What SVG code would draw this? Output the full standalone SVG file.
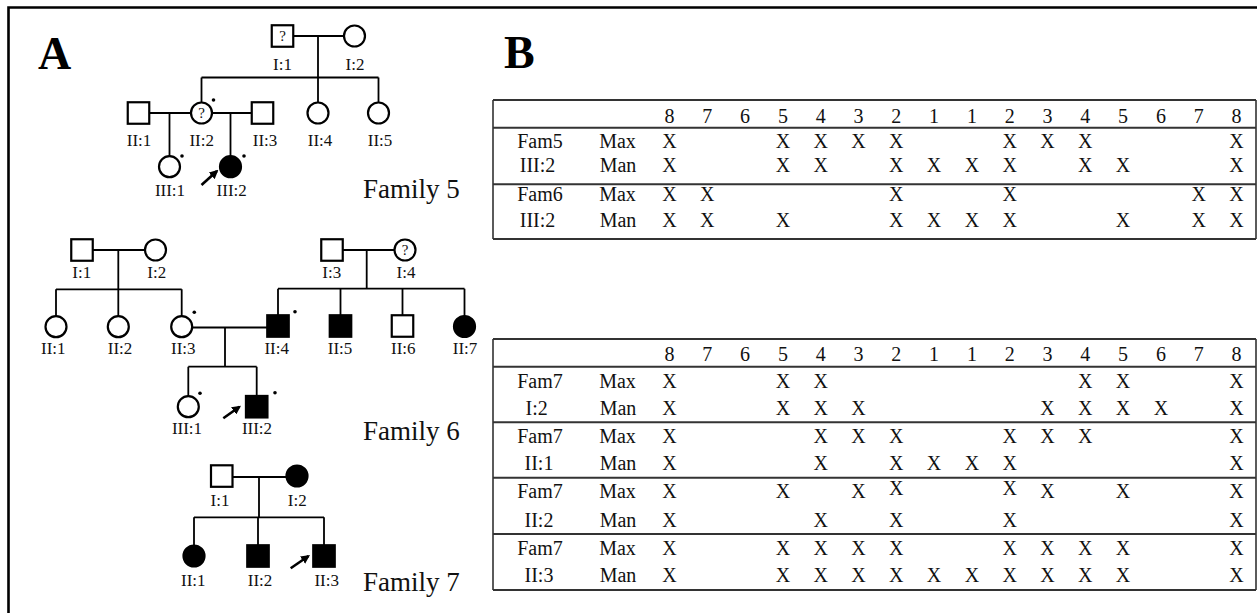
<svg xmlns="http://www.w3.org/2000/svg" width="1257" height="613" viewBox="0 0 1257 613">
  <style>
    .sym { fill: #fff; stroke: #000; stroke-width: 2.2; }
    .aff { fill: #000; stroke: #000; stroke-width: 2.2; }
    .ln { fill: none; stroke: #000; stroke-width: 1.8; }
    .lbl { font-family: "Liberation Serif", "Times New Roman", serif; font-size: 17px; text-anchor: middle; fill: #111; }
    .q { font-family: "Liberation Serif", "Times New Roman", serif; font-size: 15px; text-anchor: middle; fill: #111; }
    .fam { font-family: "Liberation Serif", "Times New Roman", serif; font-size: 27px; fill: #111; }
    .panel { font-family: "Liberation Serif", "Times New Roman", serif; font-size: 46px; font-weight: bold; fill: #000; }
    .tt { font-family: "Liberation Serif", "Times New Roman", serif; font-size: 20px; text-anchor: middle; fill: #111; }
    .rule { stroke: #333; stroke-width: 2; fill: none; }
    .rule2 { stroke: #333; stroke-width: 1.6; fill: none; }
    .dot { fill: #000; }
    .arr { stroke: #000; stroke-width: 2.6; fill: none; marker-end: url(#head); }
  </style>
  <defs>
    <marker id="head" viewBox="0 0 10 10" refX="8" refY="5" markerWidth="9" markerHeight="9" markerUnits="userSpaceOnUse" orient="auto">
      <path d="M0,0 L10,5 L0,10 z" fill="#000"/>
    </marker>
  </defs>

  <rect width="1257" height="613" fill="#fff"/>
  <!-- frame -->
  <path d="M8.5,613 V7.5 H1257" fill="none" stroke="#000" stroke-width="2.6"/>

  <text class="panel" x="38" y="69">A</text>
  <text class="panel" x="504" y="68">B</text>

  <!-- ===== Family 5 ===== -->
  <g id="connectors-f5">
    <path class="ln" d="M293,36 H344 M318,36 V77.5 M201.5,77.5 H378.5 M201.5,77.5 V102.5 M318,77.5 V102.5 M378.5,77.5 V102.5"/>
    <path class="ln" d="M149,113 H191 M169.5,113 V156 M212,113 H252 M230.5,113 V156"/>
    <line class="arr" x1="201.5" y1="185" x2="217" y2="171"/>
  </g>
  <g id="f5-I1"><rect class="sym" x="271.75" y="25.25" width="21.5" height="21.5"/><text class="q" x="282.5" y="41">?</text><text class="lbl" x="282.5" y="70">I:1</text></g>
  <g id="f5-I2"><circle class="sym" cx="354.5" cy="36" r="10.5"/><text class="lbl" x="355" y="70">I:2</text></g>
  <g id="f5-II1"><rect class="sym" x="127.75" y="102.25" width="21.5" height="21.5"/><text class="lbl" x="139" y="146">II:1</text></g>
  <g id="f5-II2"><circle class="sym" cx="201.5" cy="113" r="10.5"/><text class="q" x="201.5" y="118">?</text><circle class="dot" cx="213.5" cy="100" r="1.8"/><text class="lbl" x="201.7" y="146">II:2</text></g>
  <g id="f5-II3"><rect class="sym" x="251.75" y="102.25" width="21.5" height="21.5"/><text class="lbl" x="265" y="146">II:3</text></g>
  <g id="f5-II4"><circle class="sym" cx="318" cy="113" r="10.5"/><text class="lbl" x="320" y="146">II:4</text></g>
  <g id="f5-II5"><circle class="sym" cx="378.5" cy="113" r="10.5"/><text class="lbl" x="380" y="146">II:5</text></g>
  <g id="f5-III1"><circle class="sym" cx="169.5" cy="166.7" r="10.5"/><circle class="dot" cx="182" cy="156" r="1.8"/><text class="lbl" x="170" y="196">III:1</text></g>
  <g id="f5-III2"><circle class="aff" cx="230.5" cy="166.7" r="10.5"/><circle class="dot" cx="244" cy="156" r="1.8"/><text class="lbl" x="231.7" y="196">III:2</text></g>
  <text class="fam" x="363" y="198">Family 5</text>

  <!-- ===== Family 6 ===== -->
  <g id="connectors-f6">
    <path class="ln" d="M93,250 H145 M118.3,250 V289.3 M56,289.3 H181.7 M56,289.3 V316 M118.3,289.3 V316 M181.7,289.3 V316"/>
    <path class="ln" d="M343,250 H394.5 M366.7,250 V288.7 M278,288.7 H464.5 M278,288.7 V315.3 M340.5,288.7 V315.3 M402.5,288.7 V315.3 M464.5,288.7 V316"/>
    <path class="ln" d="M192.2,327.5 H267.3 M225,327.5 V366.7 M188.3,366.7 H256.7 M188.3,366.7 V396 M256.7,366.7 V396"/>
    <line class="arr" x1="223.3" y1="418.3" x2="239.5" y2="406.7"/>
  </g>
  <g id="f6-I1"><rect class="sym" x="71.25" y="239.25" width="21.5" height="21.5"/><text class="lbl" x="81.7" y="278">I:1</text></g>
  <g id="f6-I2"><circle class="sym" cx="155.5" cy="250" r="10.5"/><text class="lbl" x="156.7" y="278">I:2</text></g>
  <g id="f6-I3"><rect class="sym" x="321.25" y="239.25" width="21.5" height="21.5"/><text class="lbl" x="331.7" y="278">I:3</text></g>
  <g id="f6-I4"><circle class="sym" cx="405" cy="250" r="10.5"/><text class="q" x="405" y="255">?</text><text class="lbl" x="406" y="278">I:4</text></g>
  <g id="f6-II1"><circle class="sym" cx="56" cy="326.7" r="10.5"/><text class="lbl" x="53.3" y="354">II:1</text></g>
  <g id="f6-II2"><circle class="sym" cx="118.3" cy="326.7" r="10.5"/><text class="lbl" x="120" y="354">II:2</text></g>
  <g id="f6-II3"><circle class="sym" cx="181.7" cy="326.7" r="10.5"/><circle class="dot" cx="194.3" cy="312.3" r="1.8"/><text class="lbl" x="183.3" y="354">II:3</text></g>
  <g id="f6-II4"><rect class="aff" x="267.25" y="315.25" width="21.5" height="21.5"/><circle class="dot" cx="295" cy="311.7" r="1.8"/><text class="lbl" x="276.7" y="354">II:4</text></g>
  <g id="f6-II5"><rect class="aff" x="329.75" y="315.25" width="21.5" height="21.5"/><text class="lbl" x="340" y="354">II:5</text></g>
  <g id="f6-II6"><rect class="sym" x="391.75" y="315.25" width="21.5" height="21.5"/><text class="lbl" x="403.3" y="354">II:6</text></g>
  <g id="f6-II7"><circle class="aff" cx="464.5" cy="326.5" r="10.5"/><text class="lbl" x="465" y="354">II:7</text></g>
  <g id="f6-III1"><circle class="sym" cx="188.3" cy="406.7" r="10.5"/><circle class="dot" cx="200" cy="393.3" r="1.8"/><text class="lbl" x="187" y="434">III:1</text></g>
  <g id="f6-III2"><rect class="aff" x="245.95" y="395.95" width="21.5" height="21.5"/><circle class="dot" cx="275" cy="392.7" r="1.8"/><text class="lbl" x="257" y="434">III:2</text></g>
  <text class="fam" x="363" y="440">Family 6</text>

  <!-- ===== Family 7 ===== -->
  <g id="connectors-f7">
    <path class="ln" d="M233,477 H286 M259,477 V517.3 M194,517.3 H324 M194,517.3 V545 M258,517.3 V545 M324,517.3 V545"/>
    <line class="arr" x1="290.7" y1="568.3" x2="308.5" y2="556"/>
  </g>
  <g id="f7-I1"><rect class="sym" x="211" y="465.3" width="21.5" height="21.5"/><text class="lbl" x="220" y="506">I:1</text></g>
  <g id="f7-I2"><circle class="aff" cx="297" cy="476" r="10.5"/><text class="lbl" x="297.3" y="506">I:2</text></g>
  <g id="f7-II1"><circle class="aff" cx="194" cy="556" r="10.5"/><text class="lbl" x="193.3" y="586">II:1</text></g>
  <g id="f7-II2"><rect class="aff" x="247.25" y="545.25" width="21.5" height="21.5"/><text class="lbl" x="260" y="586">II:2</text></g>
  <g id="f7-II3"><rect class="aff" x="313.25" y="545.25" width="21.5" height="21.5"/><text class="lbl" x="326.7" y="586">II:3</text></g>
  <text class="fam" x="363" y="591">Family 7</text>

  <!-- ===== Table: families 5 and 6 ===== -->
  <g id="table-top">
    <path class="rule" d="M493,100 H1256 M493,127.7 H1256 M493,184.3 H1256 M493,239 H1256"/>
    <path class="rule2" d="M493,100 V239 M1256,100 V239"/>
    <g class="tt">
      <text y="122.5"><tspan x="669.5">8</tspan><tspan x="707.3">7</tspan><tspan x="745.1">6</tspan><tspan x="782.9">5</tspan><tspan x="820.7">4</tspan><tspan x="858.5">3</tspan><tspan x="896.3">2</tspan><tspan x="934.1">1</tspan><tspan x="971.9">1</tspan><tspan x="1009.7">2</tspan><tspan x="1047.5">3</tspan><tspan x="1085.3">4</tspan><tspan x="1123.1">5</tspan><tspan x="1160.9">6</tspan><tspan x="1198.7">7</tspan><tspan x="1236.5">8</tspan></text>
      <text y="148"><tspan x="540">Fam5</tspan><tspan x="617.5">Max</tspan><tspan x="669.5">X</tspan><tspan x="782.9">X</tspan><tspan x="820.7">X</tspan><tspan x="858.5">X</tspan><tspan x="896.3">X</tspan><tspan x="1009.7">X</tspan><tspan x="1047.5">X</tspan><tspan x="1085.3">X</tspan><tspan x="1236.5">X</tspan></text>
      <text y="171.5"><tspan x="537.5">III:2</tspan><tspan x="618">Man</tspan><tspan x="669.5">X</tspan><tspan x="782.9">X</tspan><tspan x="820.7">X</tspan><tspan x="896.3">X</tspan><tspan x="934.1">X</tspan><tspan x="971.9">X</tspan><tspan x="1009.7">X</tspan><tspan x="1085.3">X</tspan><tspan x="1123.1">X</tspan><tspan x="1236.5">X</tspan></text>
      <text y="201"><tspan x="540">Fam6</tspan><tspan x="617.5">Max</tspan><tspan x="669.5">X</tspan><tspan x="707.3">X</tspan><tspan x="896.3">X</tspan><tspan x="1009.7">X</tspan><tspan x="1198.7">X</tspan><tspan x="1236.5">X</tspan></text>
      <text y="226.5"><tspan x="537.5">III:2</tspan><tspan x="618">Man</tspan><tspan x="669.5">X</tspan><tspan x="707.3">X</tspan><tspan x="782.9">X</tspan><tspan x="896.3">X</tspan><tspan x="934.1">X</tspan><tspan x="971.9">X</tspan><tspan x="1009.7">X</tspan><tspan x="1123.1">X</tspan><tspan x="1198.7">X</tspan><tspan x="1236.5">X</tspan></text>
    </g>
  </g>

  <!-- ===== Table: family 7 ===== -->
  <g id="table-bottom">
    <path class="rule" d="M493,339 H1256 M493,366.7 H1256 M493,422.3 H1256 M493,477.7 H1256 M493,534 H1256 M493,590 H1256"/>
    <path class="rule2" d="M493,339 V590 M1256,339 V590"/>
    <g class="tt">
      <text y="361"><tspan x="669.5">8</tspan><tspan x="707.3">7</tspan><tspan x="745.1">6</tspan><tspan x="782.9">5</tspan><tspan x="820.7">4</tspan><tspan x="858.5">3</tspan><tspan x="896.3">2</tspan><tspan x="934.1">1</tspan><tspan x="971.9">1</tspan><tspan x="1009.7">2</tspan><tspan x="1047.5">3</tspan><tspan x="1085.3">4</tspan><tspan x="1123.1">5</tspan><tspan x="1160.9">6</tspan><tspan x="1198.7">7</tspan><tspan x="1236.5">8</tspan></text>
      <text y="388.3"><tspan x="540">Fam7</tspan><tspan x="617.5">Max</tspan><tspan x="669.5">X</tspan><tspan x="782.9">X</tspan><tspan x="820.7">X</tspan><tspan x="1085.3">X</tspan><tspan x="1123.1">X</tspan><tspan x="1236.5">X</tspan></text>
      <text y="415"><tspan x="536.7">I:2</tspan><tspan x="618">Man</tspan><tspan x="669.5">X</tspan><tspan x="782.9">X</tspan><tspan x="820.7">X</tspan><tspan x="858.5">X</tspan><tspan x="1047.5">X</tspan><tspan x="1085.3">X</tspan><tspan x="1123.1">X</tspan><tspan x="1160.9">X</tspan><tspan x="1236.5">X</tspan></text>
      <text y="443.3"><tspan x="540">Fam7</tspan><tspan x="617.5">Max</tspan><tspan x="669.5">X</tspan><tspan x="820.7">X</tspan><tspan x="858.5">X</tspan><tspan x="896.3">X</tspan><tspan x="1009.7">X</tspan><tspan x="1047.5">X</tspan><tspan x="1085.3">X</tspan><tspan x="1236.5">X</tspan></text>
      <text y="470"><tspan x="539">II:1</tspan><tspan x="618">Man</tspan><tspan x="669.5">X</tspan><tspan x="820.7">X</tspan><tspan x="896.3">X</tspan><tspan x="934.1">X</tspan><tspan x="971.9">X</tspan><tspan x="1009.7">X</tspan><tspan x="1236.5">X</tspan></text>
      <text y="498.3"><tspan x="540">Fam7</tspan><tspan x="617.5">Max</tspan><tspan x="669.5">X</tspan><tspan x="782.9">X</tspan><tspan x="858.5">X</tspan><tspan x="896.3" dy="-3">X</tspan><tspan x="1009.7">X</tspan><tspan x="1047.5" dy="3">X</tspan><tspan x="1123.1">X</tspan><tspan x="1236.5">X</tspan></text>
      <text y="526.7"><tspan x="539">II:2</tspan><tspan x="618">Man</tspan><tspan x="669.5">X</tspan><tspan x="820.7">X</tspan><tspan x="896.3">X</tspan><tspan x="1009.7">X</tspan><tspan x="1236.5">X</tspan></text>
      <text y="555"><tspan x="540">Fam7</tspan><tspan x="617.5">Max</tspan><tspan x="669.5">X</tspan><tspan x="782.9">X</tspan><tspan x="820.7">X</tspan><tspan x="858.5">X</tspan><tspan x="896.3">X</tspan><tspan x="1009.7">X</tspan><tspan x="1047.5">X</tspan><tspan x="1085.3">X</tspan><tspan x="1123.1">X</tspan><tspan x="1236.5">X</tspan></text>
      <text y="581.7"><tspan x="539">II:3</tspan><tspan x="618">Man</tspan><tspan x="669.5">X</tspan><tspan x="782.9">X</tspan><tspan x="820.7">X</tspan><tspan x="858.5">X</tspan><tspan x="896.3">X</tspan><tspan x="934.1">X</tspan><tspan x="971.9">X</tspan><tspan x="1009.7">X</tspan><tspan x="1047.5">X</tspan><tspan x="1085.3">X</tspan><tspan x="1123.1">X</tspan><tspan x="1236.5">X</tspan></text>
    </g>
  </g>
</svg>
